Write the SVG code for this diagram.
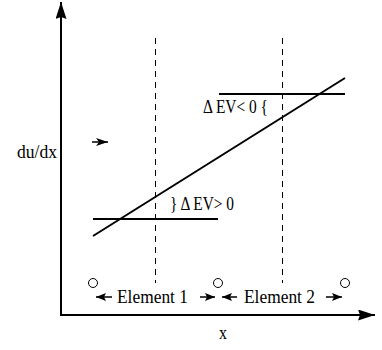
<svg xmlns="http://www.w3.org/2000/svg" width="382" height="350" viewBox="0 0 382 350">
<style>
.ax{stroke:#000;stroke-width:2;fill:none}
.ln{stroke:#000;stroke-width:2;fill:none}
.dash{stroke:#000;stroke-width:1;stroke-dasharray:6,5;fill:none}
.t{font-family:"Liberation Serif","Times New Roman",serif;font-size:19px;fill:#000}
.c{fill:#fff;stroke:#000;stroke-width:1}
.sa{stroke:#000;stroke-width:1.5;fill:none}
</style>
<defs>
<marker id="ah" viewBox="0 0 17 11" refX="17" refY="5.5" markerWidth="17" markerHeight="11" markerUnits="userSpaceOnUse" orient="auto">
<path d="M0,0 L17,5.5 L0,11 L2,5.5 Z" fill="#000"/>
</marker>
<marker id="sm" viewBox="0 0 10 8" refX="10" refY="4" markerWidth="10" markerHeight="8" markerUnits="userSpaceOnUse" orient="auto">
<path d="M0,0 L10,4 L0,8 L2,4 Z" fill="#000"/>
</marker>
<marker id="md" viewBox="0 0 12 8" refX="12" refY="4" markerWidth="12" markerHeight="8" markerUnits="userSpaceOnUse" orient="auto">
<path d="M0,0 L12,4 L0,8 L3,4 Z" fill="#000"/>
</marker>
</defs>
<g id="axes">
<path class="ax" d="M61,316 L61,2" marker-end="url(#ah)"/>
<path class="ax" d="M60,315 L375,315" marker-end="url(#ah)"/>
</g>
<g id="dividers">
<line class="dash" x1="155.5" y1="38" x2="155.5" y2="283"/>
<line class="dash" x1="282.5" y1="38" x2="282.5" y2="283"/>
</g>
<g id="lines">
<line class="ln" x1="219" y1="94" x2="345" y2="94"/>
<line class="ln" x1="93" y1="219" x2="218" y2="219"/>
<line class="ln" x1="93" y1="236" x2="345" y2="78"/>
</g>
<g id="labels">
<text class="t" x="17" y="158" textLength="40" lengthAdjust="spacingAndGlyphs">du/dx</text>
<path class="sa" d="M92,142 L108,142" marker-end="url(#md)"/>
<text class="t" x="170" y="210" textLength="64" lengthAdjust="spacingAndGlyphs">} Δ EV&gt; 0</text>
<text class="t" x="203" y="113" textLength="65" lengthAdjust="spacingAndGlyphs">Δ EV&lt; 0 {</text>
<text class="t" x="219" y="339" textLength="8" lengthAdjust="spacingAndGlyphs">x</text>
</g>
<g id="nodes">
<circle class="c" cx="93" cy="283" r="4.5"/>
<circle class="c" cx="218" cy="283" r="4.5"/>
<circle class="c" cx="345" cy="283" r="4.5"/>
</g>
<g id="connectors">
<path class="sa" d="M112,297 L96,297" marker-end="url(#sm)"/>
<path class="sa" d="M200,297 L215,297" marker-end="url(#sm)"/>
<path class="sa" d="M237,297 L222,297" marker-end="url(#sm)"/>
<path class="sa" d="M326,297 L342,297" marker-end="url(#sm)"/>
</g>
<g id="elements">
<text class="t" x="117" y="303" textLength="71" lengthAdjust="spacingAndGlyphs">Element 1</text>
<text class="t" x="244" y="303" textLength="71" lengthAdjust="spacingAndGlyphs">Element 2</text>
</g>
</svg>
